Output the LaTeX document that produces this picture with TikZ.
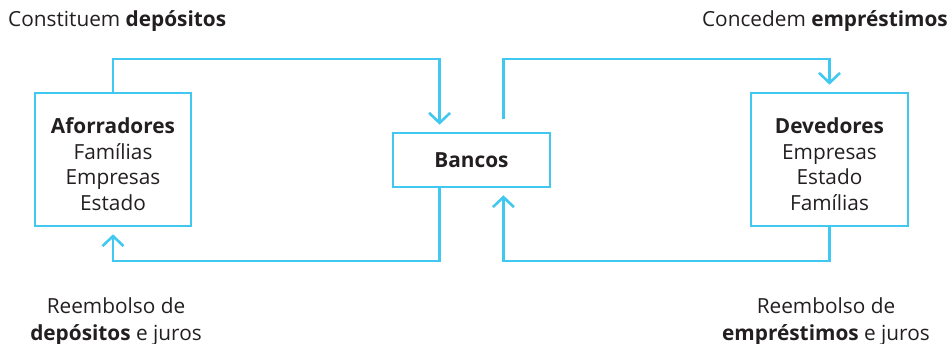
\documentclass[tikz,border=0pt]{standalone}
\usepackage{fontspec}
\setmainfont{Open Sans}
\usetikzlibrary{arrows.meta,calc}
\definecolor{flow}{RGB}{64,200,240}
\definecolor{ink}{RGB}{35,31,32}
\newcommand{\topstrut}{\rule{0pt}{25pt}}
\begin{document}
\begin{tikzpicture}[x=1pt,y=-1pt,
  box/.style={draw=flow,line width=2.6pt,align=center,text=ink,inner sep=0pt,
    font=\fontsize{20.8}{25.5}\selectfont},
  lbl/.style={text=ink,inner sep=0pt,align=center,font=\fontsize{20.8}{27}\selectfont},
  flowline/.style={draw=flow,line width=2.6pt,
    -{Straight Barb[width=21pt,length=10pt]}, shorten >=7pt}]
\useasboundingbox (0,0) rectangle (952,344);

\node[box,minimum width=156pt,minimum height=133pt] (afo) at (113,159.5)
  {\topstrut\textbf{Aforradores}\\Famílias\\Empresas\\Estado};
\node[box,minimum width=157pt,minimum height=54pt] (ban) at (471.5,160)
  {\textbf{Bancos}};
\node[box,minimum width=157pt,minimum height=133pt] (dev) at (829.5,159.5)
  {\topstrut\textbf{Devedores}\\Empresas\\Estado\\Famílias};

\path (ban.north west) -- (ban.north east)
  coordinate[pos=0.3] (bn1) coordinate[pos=0.7] (bn2);
\path (ban.south west) -- (ban.south east)
  coordinate[pos=0.3] (bs1) coordinate[pos=0.7] (bs2);
\coordinate (top) at (0,59);
\coordinate (bot) at (0,261);

\draw[flowline] (afo.north) -- (afo.north |- top) -| (bn1);
\draw[flowline] (bs1) -- (bs1 |- bot) -| (afo.south);
\draw[flowline, shorten <=13pt] (bn2) -- (bn2 |- top) -| (dev.north);
\draw[flowline] (dev.south) -- (dev.south |- bot) -| (bs2);

\node[lbl,anchor=base west] (t1) at (8,27) {Constituem \textbf{depósitos}};
\node[lbl,anchor=base east] (t2) at (948,27) {Concedem \textbf{empréstimos}};
\node[lbl] (t3) at (116,322) {Reembolso de\\\textbf{depósitos} e juros};
\node[lbl] (t4) at (826,322) {Reembolso de\\\textbf{empréstimos} e juros};
\end{tikzpicture}
\end{document}
